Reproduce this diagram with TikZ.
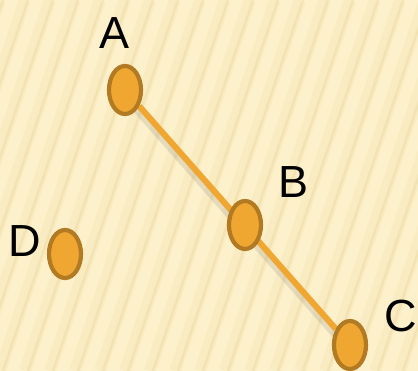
\documentclass[tikz,border=0pt]{standalone}
\usepackage{fontspec}
\setmainfont{Liberation Sans}
\usetikzlibrary{positioning, shapes.geometric}
\pgfdeclarelayer{bg}
\pgfsetlayers{bg,main}
\definecolor{paper}{HTML}{FDF1CC}
\definecolor{streak}{HTML}{EDD79A}
\definecolor{dotfill}{HTML}{F0A732}
\definecolor{dotrim}{HTML}{B27A22}

\begin{document}
\begin{tikzpicture}[
    x=1pt, y=-1pt,
    ptnode/.style={ellipse, draw=dotrim, fill=dotfill, line width=4.2pt, minimum width=32pt, minimum height=48pt, inner sep=0pt},
    lbl/.style={font=\fontsize{45}{48}\selectfont, inner sep=0pt},
    segline/.style={draw=dotfill, line width=6pt},
    streakband/.style={draw=streak, line width=12pt, opacity=0.2},
    streakline/.style={draw=streak, line width=2.5pt, opacity=0.4},
    ]
  \useasboundingbox (0,0) rectangle (418,371);

  \node[ptnode] (ptA) at (125,90) {};
  \node[ptnode] (ptB) at (245,225) {};
  \node[ptnode] (ptC) at (350,345) {};
  \node[ptnode] (ptD) at (65,254) {};

  \begin{pgfonlayer}{bg}
    \fill[paper] (0,0) rectangle (418,371);
    \begin{scope}
      \clip (0,0) rectangle (418,371);
      \foreach \i in {-7,...,18} {
        \draw[streakband] (\i*25,371) -- ++(125,-371);
        \draw[streakline] (\i*25+3,371) -- ++(125,-371);
      }
    \end{scope}
    % shadow of the segment
    \draw[draw=gray, line width=6pt, opacity=0.2] ([xshift=-3pt,yshift=-4pt]ptA.center) -- ([xshift=-3pt,yshift=-4pt]ptC.center);
    \draw[segline] (ptA) -- (ptC);
  \end{pgfonlayer}

  \node[lbl] (labA) at (115,33) {A};
  \node[lbl] (labB) at (294,182) {B};
  \node[lbl] (labC) at (401,316) {C};
  \node[lbl] (labD) at (25,241) {D};
\end{tikzpicture}
\end{document}
